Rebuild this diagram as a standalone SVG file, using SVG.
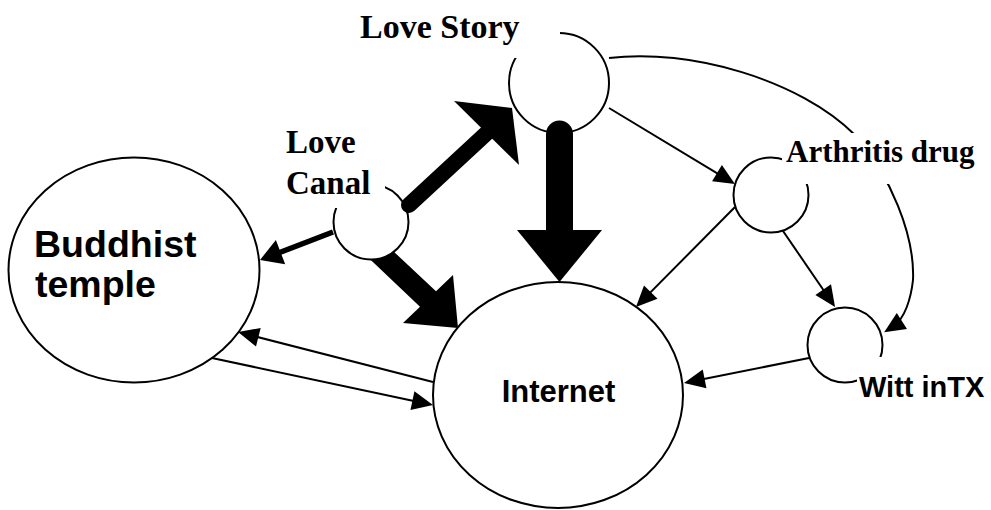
<svg xmlns="http://www.w3.org/2000/svg" width="991" height="510" viewBox="0 0 991 510">
<style>
.n{fill:none;stroke:#000;stroke-width:2}
.c{fill:none;stroke:#000;stroke-width:2;marker-end:url(#ah)}
.k{fill:#000;stroke:none}
.lb{fill:#fff;stroke:none}
.ts{font-family:"Liberation Serif","Times New Roman",serif;font-weight:bold;fill:#000}
.ss{font-family:"Liberation Sans",Arial,sans-serif;font-weight:bold;fill:#000}
</style>
<defs>
<marker id="ah" markerUnits="userSpaceOnUse" markerWidth="22" markerHeight="20" refX="11" refY="9.5" orient="auto" overflow="visible"><path d="M0,0 L21,9.5 L0,19 Z" fill="#000"/></marker>
<marker id="ahb" markerUnits="userSpaceOnUse" markerWidth="23" markerHeight="27" refX="10" refY="13" orient="auto" overflow="visible"><path d="M0,0 L22,13 L0,26 Z" fill="#000"/></marker>
</defs>
<rect width="991" height="510" fill="#fff"/>
<g id="connectors">
<path class="c" d="M609,108 L726.4,178.8"/>
<path class="c" d="M735,207 L643,299.9"/>
<path class="c" d="M783,231 L829.4,298.7"/>
<path class="c" d="M809,358 L693.8,381"/>
<path class="c" d="M433,382 L247.7,334.5"/>
<path class="c" d="M212,358 L423.2,402.9"/>
<path class="c" d="M609,58 C690,48 800,80 855,135 C890,175 915,235 913,280 C911,298 905,319 892.6,326.9"/>
<path d="M333,232 L271.2,255.7" fill="none" stroke="#000" stroke-width="5.5" marker-end="url(#ahb)"/>
<path d="M409,205 L490,130" fill="none" stroke="#000" stroke-width="16" stroke-linecap="round"/>
<polygon class="k" points="454,101 512,108 519,165"/>
<path d="M559.5,134 L559.5,232" fill="none" stroke="#000" stroke-width="27" stroke-linecap="round"/>
<polygon class="k" points="517,230 602,230 559.5,282"/>
<path class="k" d="M370,259.3 A37.5,37.5 0 0 0 393.8,251.7 L436,291.3 L453,275 L458,328 L403,323 L420,306.7 Z"/>
</g>
<g id="nodes">
<g id="buddhist-temple">
<ellipse class="n" cx="134" cy="270" rx="125.5" ry="112.5"/>
<text class="ss" x="34" y="257" font-size="37.5">Buddhist</text>
<text class="ss" x="35" y="297" font-size="37.5">temple</text>
</g>
<g id="internet">
<ellipse class="n" cx="558" cy="395" rx="125" ry="113"/>
<text class="ss" x="558.5" y="402" font-size="31" text-anchor="middle">Internet</text>
</g>
<g id="love-story">
<circle class="n" cx="559" cy="83" r="50"/>
<rect class="lb" x="355" y="0" width="205" height="58"/>
<text class="ts" x="360" y="38" font-size="34">Love Story</text>
</g>
<g id="love-canal">
<circle class="n" cx="371" cy="222" r="37.5"/>
<rect class="lb" x="278" y="118" width="107" height="90"/>
<text class="ts" x="286" y="153" font-size="33">Love</text>
<text class="ts" x="286" y="194" font-size="33">Canal</text>
</g>
<g id="arthritis-drug">
<circle class="n" cx="771" cy="195" r="37.5"/>
<rect class="lb" x="782" y="133" width="205" height="51"/>
<text class="ts" x="786" y="162" font-size="31">Arthritis drug</text>
</g>
<g id="witt-intx">
<circle class="n" cx="845" cy="345" r="37.5"/>
<rect class="lb" x="857" y="357" width="134" height="53"/>
<text class="ss" x="859" y="397" font-size="29">Witt inTX</text>
</g>
</g>
</svg>
